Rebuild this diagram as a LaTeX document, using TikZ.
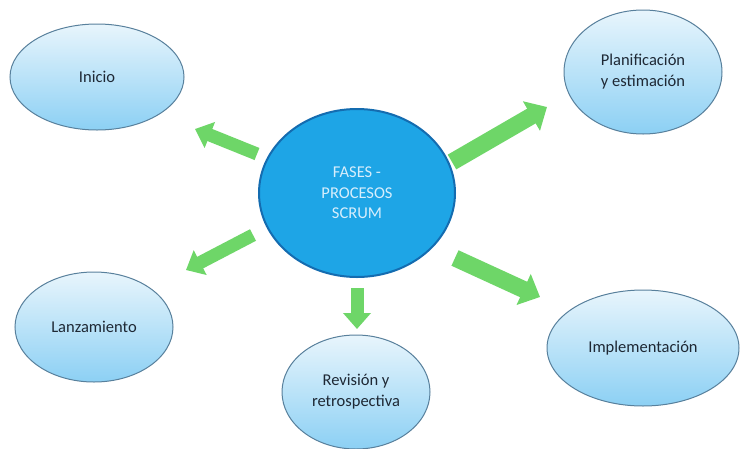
\documentclass[tikz,border=0pt]{standalone}
\usepackage{fontspec}
\setmainfont{Carlito}
\usetikzlibrary{shapes.geometric,arrows.meta,shadings}
\definecolor{arrowgreen}{RGB}{110,214,104}
\definecolor{elltop}{RGB}{232,245,252}
\definecolor{ellbot}{RGB}{140,208,244}
\definecolor{ellborder}{RGB}{88,128,156}
\definecolor{hubfill}{RGB}{30,165,230}
\definecolor{hubborder}{RGB}{20,108,176}
\definecolor{hubtext}{RGB}{215,238,252}
\definecolor{txt}{RGB}{30,40,52}
\tikzset{
  phase/.style={ellipse, draw=ellborder, line width=1pt, top color=elltop, bottom color=ellbot,
    inner sep=0pt, text=txt, align=center, font=\fontsize{16.5}{21}\selectfont},
  hub/.style={ellipse, draw=hubborder, line width=2pt, fill=hubfill, inner sep=0pt,
    text=hubtext, align=center, font=\fontsize{16.5}{20.5}\selectfont},
  thinarrow/.style={draw=arrowgreen, line width=13pt, -{Triangle[width=27pt,length=16pt]}},
  widearrow/.style={draw=arrowgreen, line width=17pt, -{Triangle[width=33pt,length=18pt]}}
}
\begin{document}
\begin{tikzpicture}[x=1pt,y=-1pt]
\useasboundingbox (0,0) rectangle (740,448);
\fill[white] (0,0) rectangle (740,448);
% nodes
\node[hub, minimum width=196pt, minimum height=168pt] (c) at (357,193) {FASES -\\PROCESOS\\SCRUM};
\node[phase, minimum width=174pt, minimum height=106pt] (ini) at (97,77) {Inicio};
\node[phase, minimum width=158pt, minimum height=124pt] (plan) at (643,72) {Planificación\\y estimación};
\node[phase, minimum width=158pt, minimum height=110pt] (lanz) at (94,327) {Lanzamiento};
\node[phase, minimum width=148pt, minimum height=114pt] (rev) at (356,392) {Revisión y\\retrospectiva};
\node[phase, minimum width=192pt, minimum height=116pt] (impl) at (643,348) {Implementación};
% arrow ends
\coordinate (a1s) at (257,154);
\coordinate (a1e) at (195,129);
\coordinate (a2s) at (452,162);
\coordinate (a2e) at (547,107);
\coordinate (a3s) at (253,235);
\coordinate (a3e) at (186,270);
\coordinate (a4s) at (357,288);
\coordinate (a4e) at (357,329);
\coordinate (a5s) at (455,258);
\coordinate (a5e) at (540,297);
\draw[thinarrow] (a1s) -- (a1e);
\draw[widearrow] (a2s) -- (a2e);
\draw[thinarrow] (a3s) -- (a3e);
\draw[thinarrow] (a4s) -- (a4e);
\draw[widearrow] (a5s) -- (a5e);
\end{tikzpicture}
\end{document}
